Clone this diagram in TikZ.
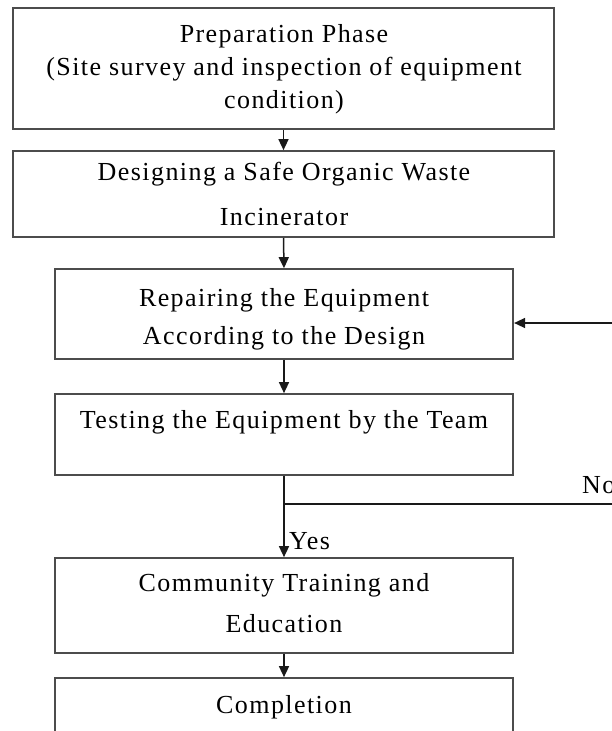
\documentclass[tikz,border=0pt]{standalone}
\usepackage{fontspec}
\setmainfont{Liberation Serif}[LetterSpace=5.5]
\usetikzlibrary{arrows.meta}
\begin{document}
\begin{tikzpicture}[x=1pt,y=-1pt,
  box/.style={draw=black!70,line width=1.7pt,minimum width=#1,inner sep=0pt,anchor=center},
  txt/.style={font=\fontsize{26}{#1}\selectfont,align=center,inner sep=0pt},
  txt/.default=34,
  conn/.style={line width=1.5pt,draw=black!90,-{Triangle[length=11pt,width=10pt]}}]
\useasboundingbox (0,0) rectangle (612,731);
\clip (0,0) rectangle (612,731);
\node[box=541pt,minimum height=121pt] (b1) at (283.5,68.5) {};
\node[box=541pt,minimum height=86pt] (b2) at (283.5,194) {};
\node[box=458.5pt,minimum height=90pt] (b3) at (284,314) {};
\node[box=458.5pt,minimum height=81pt] (b4) at (284,434.5) {};
\node[box=458.5pt,minimum height=95pt] (b5) at (284,605.5) {};
\node[box=458.5pt,minimum height=82pt] (b6) at (284,719) {};
\node[txt=33] (t1) at (284,69) {Preparation Phase\\(Site survey and inspection of equipment\\condition)};
\node[txt=45] (t2) at (284,194) {Designing a Safe Organic Waste\\Incinerator};
\node[txt=38] (t3) at (284,319) {Repairing the Equipment\\According to the Design};
\node[txt] (t4) at (284,422) {Testing the Equipment by the Team};
\node[txt=41] (t5) at (284,603) {Community Training and\\Education};
\node[txt] (t6) at (284,707) {Completion};
\coordinate (j) at (284,504);
\coordinate (nr) at (630,504);
\coordinate (ur) at (630,323);
\draw[conn] (b1.south) -- (b2.north);
\draw[conn] (b2.south) -- (b3.north);
\draw[conn] (b3.south) -- (b4.north);
\draw[conn] (b4.south) -- (b5.north);
\draw[conn] (b5.south) -- (b6.north);
\draw[conn] (j) -- (nr) -- (ur) -- (ur -| b3.east);
\node[txt,anchor=west] (yes) at (289,541) {Yes};
\node[txt,anchor=west] (no) at (582,485) {No};
\end{tikzpicture}
\end{document}
